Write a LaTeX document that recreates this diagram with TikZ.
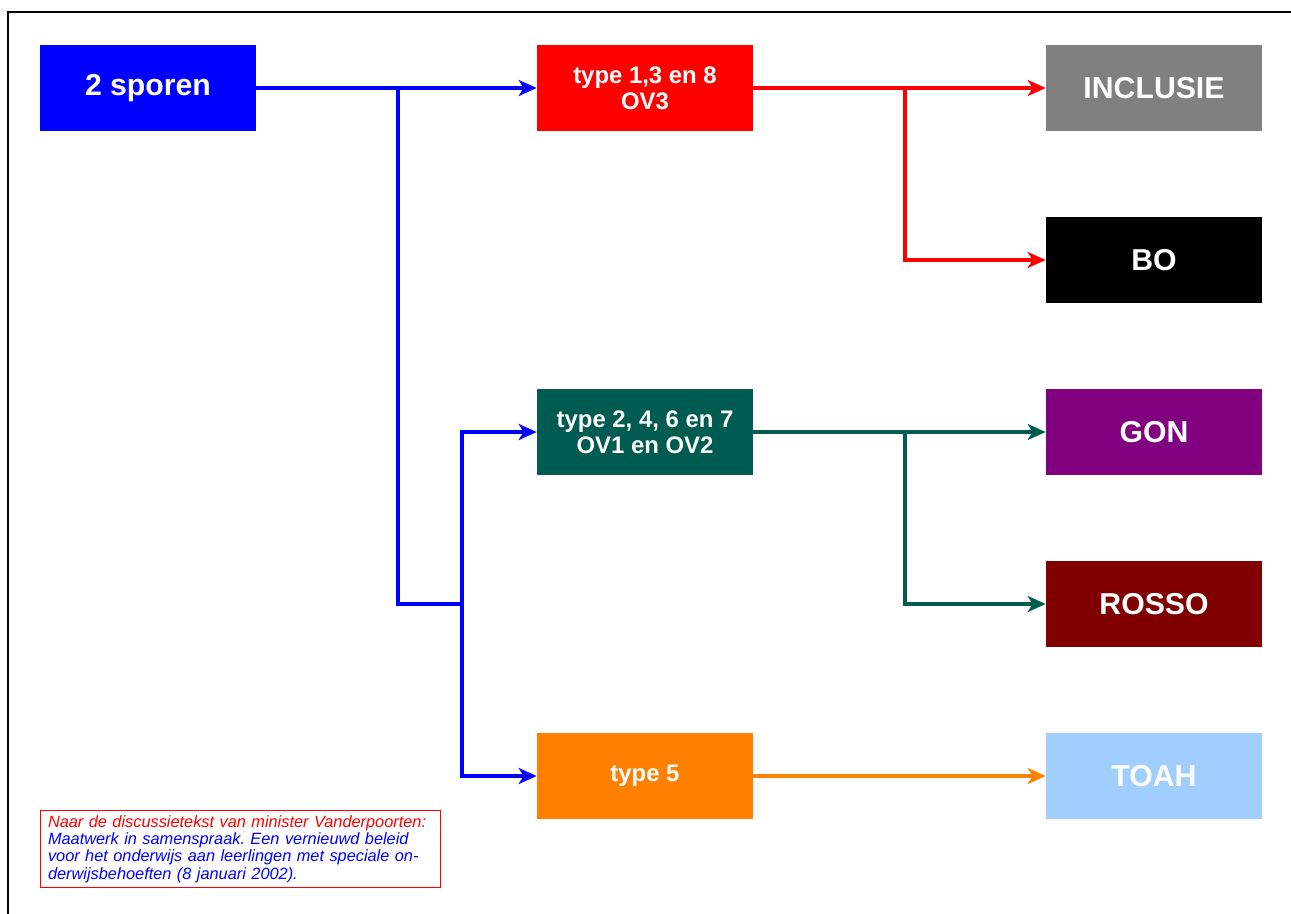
\documentclass[tikz,border=0pt]{standalone}
\usepackage{fontspec}
\setmainfont{Liberation Sans}
\usetikzlibrary{arrows.meta}

\definecolor{spoor}{RGB}{0,0,255}
\definecolor{ovrood}{RGB}{255,0,0}
\definecolor{ovgroen}{RGB}{0,92,80}
\definecolor{ovoranje}{RGB}{255,128,0}
\definecolor{grijs}{RGB}{128,128,128}
\definecolor{paars}{RGB}{128,0,128}
\definecolor{bruin}{RGB}{128,0,0}
\definecolor{lichtblauw}{RGB}{160,207,255}

\begin{document}
\frenchspacing
\begin{tikzpicture}[
		x=0.02cm, y=-0.02cm,
		box/.style={align=center, rectangle, minimum width=4.32cm, minimum height=1.72cm, inner sep=0pt, text=white, font=\bfseries},
		bigbox/.style={box, font=\fontsize{17.2}{20}\selectfont\bfseries},
		smallbox/.style={box, font=\fontsize{13.6}{14.8}\selectfont\bfseries},
		link/.style={line width=0.07cm},
		arrow/.style={link, -{Stealth[length=0.36cm, width=0.32cm, inset=0.1cm]}},
		notebox/.style={draw=ovrood, line width=0.6pt, fill=white, anchor=north west, align=left, text width=7.7cm, inner xsep=0.15cm, inner ysep=0.1cm, minimum height=1.54cm, font=\fontsize{9.3}{9.8}\selectfont\itshape},
	]
	\useasboundingbox (0,0) rectangle (1291,913);
	\draw[line width=0.04cm] (8,12) rectangle (1320,940);

	\node[bigbox, fill=spoor] (sporen) at (148,88) {2 sporen};
	\node[smallbox, fill=ovrood] (t138) at (645,88) {type 1,3 en 8\\OV3};
	\node[smallbox, fill=ovgroen] (t2467) at (645,432) {type 2, 4, 6 en 7\\OV1 en OV2};
	\node[smallbox, fill=ovoranje] (t5) at (645,776) {type 5};

	\node[bigbox, fill=grijs] (incl) at (1154,88) {INCLUSIE};
	\node[bigbox, fill=black] (bo) at (1154,260) {BO};
	\node[bigbox, fill=paars] (gon) at (1154,432) {GON};
	\node[bigbox, fill=bruin] (rosso) at (1154,604) {ROSSO};
	\node[bigbox, fill=lichtblauw] (toah) at (1154,776) {TOAH};

	\coordinate (sa) at (398,604);
	\coordinate (sb) at (462,604);
	\coordinate (ra) at (905,88);
	\coordinate (ga) at (905,432);

	% blauwe spoor
	\draw[ovrood, line width=0.02cm] (396,91) -- (396,606);
	\draw[arrow, spoor] (sporen) -- (t138);
	\draw[link, spoor] (sporen.east -| sa) -- (sa) -- (sb);
	\draw[arrow, spoor] (sb) |- (t2467);
	\draw[arrow, spoor] (sb) |- (t5);

	% verder
	\draw[arrow, ovrood] (t138) -- (incl);
	\draw[arrow, ovrood] (ra) |- (bo);
	\draw[arrow, ovgroen] (t2467) -- (gon);
	\draw[arrow, ovgroen] (ga) |- (rosso);
	\draw[arrow, ovoranje] (t5) -- (toah);

	\node[notebox] (bron) at (40,810) {\textcolor{ovrood}{Naar de discussietekst van minister Vanderpoorten:}\\
		\textcolor{spoor}{Maatwerk in samenspraak. Een vernieuwd beleid}\\
		\textcolor{spoor}{voor het onderwijs aan leerlingen met speciale on-}\\
		\textcolor{spoor}{derwijsbehoeften (8 januari 2002).}};
\end{tikzpicture}
\end{document}
